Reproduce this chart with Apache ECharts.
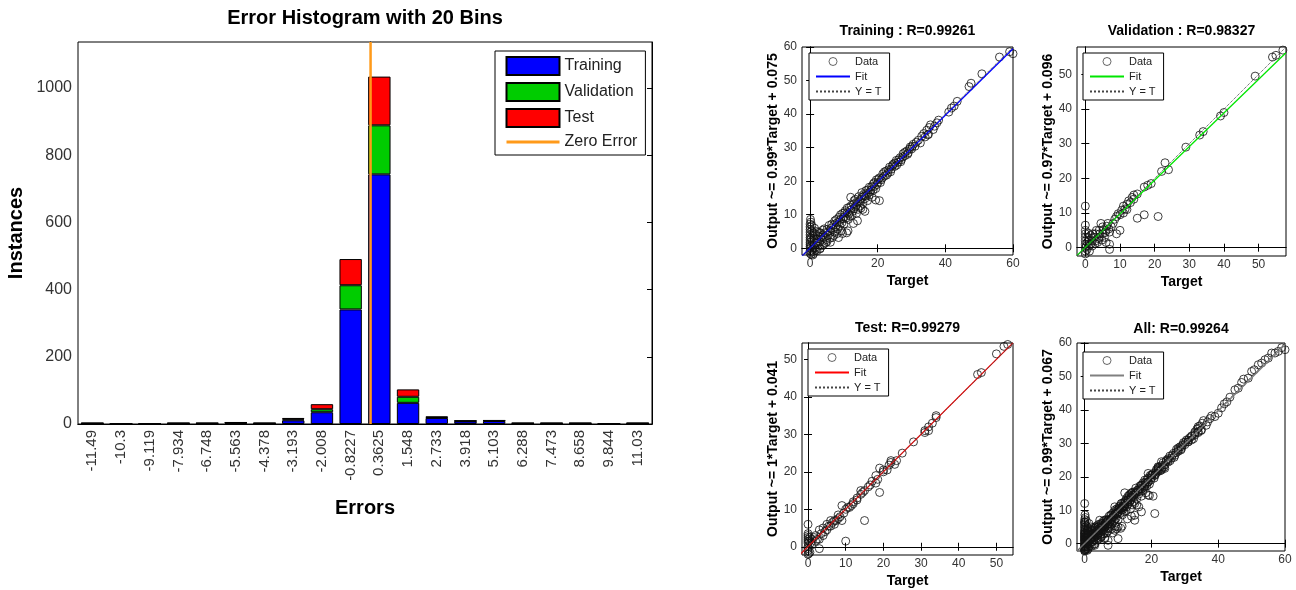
<!DOCTYPE html>
<html><head><meta charset="utf-8">
<script src="https://cdn.jsdelivr.net/npm/echarts@6/dist/echarts.min.js"></script>
<style>html,body{margin:0;padding:0;background:#fff}#c{width:1296px;height:590px}</style>
</head><body><div id="c"></div>
<script>
// ---------------- DATA ----------------
const binLabels = ['-11.49','-10.3','-9.119','-7.934','-6.748','-5.563','-4.378','-3.193','-2.008','-0.8227','0.3625','1.548','2.733','3.918','5.103','6.288','7.473','8.658','9.844','11.03'];
const trainCounts = [2,0,0,2,2,3,2,11,35,341,743,63,18,8,9,2,2,2,0,2];
const valCounts   = [0,0,0,0,0,1,0,3,9,72,146,18,2,1,1,0,0,0,0,0];
const testCounts  = [1,0,0,1,1,1,1,4,15,78,145,22,2,1,1,1,1,1,0,1];
const zeroError = 0;
const histYTicks = [0,200,400,600,800,1000];
const histYMax = 1137;

const regTitles = ['Training : R=0.99261','Validation : R=0.98327','Test: R=0.99279','All: R=0.99264'];
const fitSlope = [0.99, 0.97, 1, 0.99];
const fitIntercept = [0.075, 0.096, 0.041, 0.067];
const fitSlopeText = ['0.99','0.97','1','0.99'];
const fitColors = ['#0000FF','#00E600','#FF0000','#808080'];
const xRanges = [[-2.4,60],[-2.4,57.9],[-1.6,54.4],[-2.3,60]];
const yRanges = [[-2,60],[-2.4,57.9],[-2.2,54.4],[-2.2,60]];
const xTicks = [[0,20,40,60],[0,10,20,30,40,50],[0,10,20,30,40,50],[0,20,40,60]];
const yTicks = [[0,10,20,30,40,50,60],[0,10,20,30,40,50],[0,10,20,30,40,50],[0,10,20,30,40,50,60]];

const trainPoints = [[0,-2.2],[0,-1.5],[0,-0.8],[0,0],[0,0.6],[0,1.2],[0,1.8],[0,2.5],[0,3.2],[0,4],[0,4.8],[0,5.6],[0,6.4],[0,7.2],[0.1,8.6],[0.2,7.8],[0.3,-1.8],[0.3,3],[0.4,0.8],[0.5,-1],[0.5,5.2],[0.6,2],[0.7,-0.3],[0.8,3.8],[1,1],[1,-1.6],[1.2,2.6],[1.4,0.2],[1.5,4.2],[1.7,1.5],[2,2.8],[2,-0.8],[2.3,0.6],[2.5,3.6],[2.8,1.8],[3,4.5],[3,0],[3.4,2.6],[3.7,5.4],[4,3.2],[4,1.2],[4.4,4.6],[4.8,2.6],[5,5.6],[5.3,3.8],[5.6,6.8],[6,4.8],[6,1.8],[6.4,7.2],[6.8,5.6],[7,3.8],[7.3,8.2],[7.6,6.4],[8,7.6],[8,4.4],[8.5,9.2],[8.8,6.8],[9,8.6],[9.3,5.2],[9.6,10.4],[10,9.4],[10,7.2],[10.4,11.2],[10.8,4.6],[11,10.6],[11.3,8.6],[11.6,12.2],[12,11.4],[12,15.2],[12.4,9.8],[12.8,13.2],[13,11.8],[13.4,14.6],[13.7,10.4],[14,13.6],[14,8.2],[14.4,15.4],[14.8,12.6],[15,14.6],[15.3,16.6],[15.6,13.4],[16,15.6],[16.2,11],[16.5,17.2],[17,16.4],[17,14.2],[17.5,18.2],[18,17.4],[18.3,15.2],[18.7,19.2],[19,18.4],[19.4,14.4],[19.6,20.4],[20,19.6],[20.5,14.2],[20.5,21],[21,20.4],[21.5,22.2],[22,21.6],[22.5,23],[23,22.4],[23.5,24.2],[24,23.6],[24.5,25],[25,24.4],[25.5,26.2],[26,25.6],[26.6,27],[27,26.4],[27.5,28.2],[28,27.6],[28.6,29],[29,28.4],[29.6,30.2],[30,29.6],[30.5,31],[31,30.4],[32,32.2],[32.6,31.4],[33,33.4],[34,33.2],[34.5,35.2],[35,34],[35.6,36.8],[36.4,35.4],[37.5,37.4],[38,38.2],[41,40.6],[41.8,41.8],[42.6,42.4],[43.5,43.8],[47,48.2],[47.6,49.2],[50.8,52],[56,57],[59,58.6],[60,58],
  [0.5,6.8],[0.8,-2],[1,4.6],[1.3,6],[1.6,-0.6],[1.9,5],[2.2,1.8],[2.6,4.8],[2.9,-0.2],[3.2,3.4],[3.6,0.8],[3.9,4],[4.2,5.8],[4.6,1.6],[5,2],[5.4,5],[5.8,3],[6.2,6],[6.6,3.2],[7,7],[7.4,4.8],[7.8,8.6],[8.2,5.8],[8.6,7.8],[9,10],[9.4,7.6],[9.8,8.8],[10.2,10.6],[10.6,9],[11,12],[11.4,10.2],[11.8,9.6],[12.2,12.8],[12.6,11],[13,14.2],[13.4,12.4],[13.8,13],[14.2,11.6],[14.6,14],[15,12],[15.4,15.2],[15.8,16],[16.2,14.8],[16.6,15.6],[17,17.4],[17.4,15.8],[17.8,16.8],[18.2,18.4],[18.6,17.2],[19,19.6],[19.4,17.8],[19.8,19],[20.2,20.6],[20.8,19.6],[21.4,21],[22,22.8],[22.6,21.8],[23.2,23.4],[23.8,22.8],[24.4,24.6],[25,25.4],[25.6,24.8],[26.2,26.4],[26.8,25.8],[27.4,27.2],[28,28.6],[28.8,28],[29.4,29.6],[30.2,30.4],[31.4,31.6],[33.6,34.2],[34.8,33.8],[35.2,36],[36.8,36.4],[15.6,11.6],[12.8,7.4],[11.2,5.2],[9.6,4.4],[8.4,3.2]];
const valPoints = [[0,12],[0,-2.5],[0,-1],[0,0],[0,1],[0,2],[0,3],[0,4],[0,5],[0,6.5],[0.5,-0.5],[0.5,1.5],[0.7,3],[1,0.5],[1,2],[1.5,1],[1.5,3.5],[2,2],[2,0.5],[2.5,3],[3,2],[3,4],[3.5,1.5],[4,3],[4,5],[4.5,7],[5,4],[5,6],[5.5,3],[6,1.5],[6,5],[6.5,7],[7,-0.5],[7,1],[7,4.5],[7.5,6],[8,7],[9,4],[9,9],[10,5],[10,9.5],[11,10],[11,12],[12,11],[12,12.5],[13,13],[14,14],[15,8.5],[15,15.5],[17,9.5],[17,17.5],[18,18],[19,18.5],[21,9],[22,22],[23,24.5],[24,22.5],[29,29],[33,32.5],[34,33.5],[39,38],[40,39],[49,49.5],[54,55],[55,55.5],[57,57],[58,57.5],
  [0,-1.8],[0.3,0.5],[0.8,4.2],[1.2,-1],[1.8,2.8],[2.2,4],[2.8,1.2],[3.2,5],[3.8,2.6],[4.2,4],[4.8,2.2],[5.2,5.2],[5.8,4.4],[6.2,6.2],[6.8,5.4],[8.5,8.2],[9.5,9.8],[10.5,10.8],[11.5,11.2],[12.5,13.5],[13.5,14.5],[14,15.2]];
const testPoints = [[0,6],[0,-2],[0,-1],[0,0],[0,1],[0,2],[0,3],[0,3.5],[0.3,1.5],[0.5,-1.5],[0.5,2.5],[1,0.5],[1,2],[2,1.5],[2,3],[3,-0.5],[3,2],[3,4.5],[4,3],[4,5],[5,4.5],[5,6],[6,5.5],[6,7],[7,6],[7,7],[8,7.5],[8,8.5],[9,7],[9,11],[10,1.5],[10,10],[11,10.5],[12,12],[12,11.5],[13,12.5],[14,15],[14,14],[15,7],[15,15],[16,16],[17,17.5],[18,17],[18,19],[19,14.5],[19,21],[20,20],[20,20.5],[21,20.5],[22,22.5],[22,23],[23,22],[25,25],[28,28],[31,31],[31,30.5],[32,32],[32,31],[33,33],[34,34.5],[34,35],[45,46],[46,46.5],[50,51.5],[52,53.5],[53,54],
  [0,-0.5],[0,1.5],[0,2.5],[0.2,-1.8],[0.7,1],[1.5,2.5],[2.5,2],[3.5,3.5],[4.5,4],[5.5,5.5],[6.5,6.5],[7.5,7],[8.5,8],[9.5,9],[10.5,10.5],[11.5,11],[13,13],[14.5,14.5],[16.5,16.5],[18.5,18],[21.5,21.8],[23.5,23]];
const allPoints = trainPoints.concat(valPoints, testPoints);
const regPoints = [trainPoints, valPoints, testPoints, allPoints];

// ---------------- LAYOUT / STYLE ----------------
const FONT = "'Liberation Sans', Arial, Helvetica, sans-serif";
const grids = [], xAxes = [], yAxes = [], series = [], titles = [], legends = [];
const black = {lineStyle:{color:'#000', width:1}};
const plain = (v) => String(v);

// Histogram
const binCenters = binLabels.map(Number);
const binW = (binCenters[binCenters.length-1] - binCenters[0]) / (binCenters.length - 1);
grids.push({left:78, top:42, width:574, height:382, show:true, borderColor:'#000', borderWidth:1, backgroundColor:'#fff'});
xAxes.push({type:'category', gridIndex:0, data:binLabels, position:'bottom', boundaryGap:true,
  axisLine:black, axisTick:{inside:true, alignWithLabel:true, interval:0, length:5, lineStyle:{color:'#000'}},
  axisLabel:{rotate:90, fontSize:15, color:'#333', margin:6, interval:0, fontFamily:FONT},
  name:'Errors', nameLocation:'middle', nameGap:74, nameTextStyle:{fontSize:20, fontWeight:'bold', color:'#000', fontFamily:FONT}});
xAxes.push({type:'category', gridIndex:0, data:binLabels, position:'top', boundaryGap:true,
  axisLine:black, axisTick:{inside:true, alignWithLabel:true, interval:0, length:5, lineStyle:{color:'#000'}}, axisLabel:{show:false}});
xAxes.push({type:'value', gridIndex:0, min:binCenters[0]-binW/2, max:binCenters[binCenters.length-1]+binW/2, show:false});
yAxes.push({type:'value', gridIndex:0, min:0, max:histYMax, position:'left',
  axisLine:{show:true, lineStyle:{color:'#000'}}, splitLine:{show:false},
  axisTick:{show:true, inside:true, length:5, customValues:histYTicks, lineStyle:{color:'#000'}},
  axisLabel:{customValues:histYTicks, formatter:plain, fontSize:16, color:'#333', margin:6, fontFamily:FONT},
  name:'Instances', nameLocation:'middle', nameGap:52, nameTextStyle:{fontSize:20, fontWeight:'bold', color:'#000', fontFamily:FONT}});
yAxes.push({type:'value', gridIndex:0, min:0, max:histYMax, position:'right',
  axisLine:{show:true, lineStyle:{color:'#000'}}, splitLine:{show:false},
  axisTick:{show:true, inside:true, length:5, customValues:histYTicks, lineStyle:{color:'#000'}}, axisLabel:{show:false}});

const histSeries = [['Training', trainCounts, '#0000FF'], ['Validation', valCounts, '#00CC00'], ['Test', testCounts, '#FF0000']];
histSeries.forEach(([name, vals, col]) => {
  series.push({name, type:'bar', stack:'hist', xAxisIndex:0, yAxisIndex:0, data:vals, barWidth:'78%',
    itemStyle:{color:col, borderColor:'#000', borderWidth:1}});
});
series.push({name:'Zero Error', type:'line', xAxisIndex:2, yAxisIndex:0, data:[[zeroError,0],[zeroError,histYMax]],
  symbol:'none', lineStyle:{color:'#FF9A1A', width:2.5}, itemStyle:{color:'#FF9A1A'}, z:5});
titles.push({text:'Error Histogram with 20 Bins', left:365, top:8, textAlign:'center', padding:0,
  textStyle:{fontSize:20, fontWeight:'bold', color:'#000', fontFamily:FONT}});
legends.push({orient:'vertical', left:495, top:51, padding:[5,8,5,10], itemWidth:53, itemHeight:18, itemGap:6,
  borderColor:'#000', borderWidth:1, backgroundColor:'#fff', selectedMode:false,
  textStyle:{fontSize:16, color:'#222', fontFamily:FONT},
  data:[{name:'Training', icon:'rect'},{name:'Validation', icon:'rect'},{name:'Test', icon:'rect'},
        {name:'Zero Error', itemStyle:{opacity:0}, lineStyle:{width:3}}]});

// Regression plots
const regBoxes = [
  {left:802, top:47, w:211, h:208, titleTop:24, legL:809, legT:53},
  {left:1077, top:47, w:209, h:209, titleTop:24, legL:1083, legT:53},
  {left:802, top:343, w:211, h:212, titleTop:321, legL:808, legT:349},
  {left:1077, top:343, w:208, h:208, titleTop:322, legL:1083, legT:352}
];
const keys = ['tr','va','te','al'];
regBoxes.forEach((b, k) => {
  const g = grids.length;
  grids.push({left:b.left, top:b.top, width:b.w, height:b.h, show:true, borderColor:'#000', borderWidth:1, backgroundColor:'#fff'});
  const xi = xAxes.length, yi = yAxes.length;
  const xr = xRanges[k], yr = yRanges[k];
  const tick = (vals) => ({show:true, inside:true, length:4, customValues:vals, lineStyle:{color:'#000'}});
  xAxes.push({type:'value', gridIndex:g, min:xr[0], max:xr[1], position:'bottom', axisLine:{show:true, lineStyle:{color:'#000'}},
    splitLine:{show:false}, axisTick:tick(xTicks[k]),
    axisLabel:{customValues:xTicks[k], formatter:plain, fontSize:12, color:'#333', margin:3, fontFamily:FONT},
    name:'Target', nameLocation:'middle', nameGap:19, nameTextStyle:{fontSize:14, fontWeight:'bold', color:'#000', fontFamily:FONT}});
  xAxes.push({type:'value', gridIndex:g, min:xr[0], max:xr[1], position:'top', axisLine:{show:true, lineStyle:{color:'#000'}},
    splitLine:{show:false}, axisTick:tick(xTicks[k]), axisLabel:{show:false}});
  yAxes.push({type:'value', gridIndex:g, min:yr[0], max:yr[1], position:'left', axisLine:{show:true, lineStyle:{color:'#000'}},
    splitLine:{show:false}, axisTick:tick(yTicks[k]),
    axisLabel:{customValues:yTicks[k], formatter:plain, fontSize:12, color:'#333', margin:5, fontFamily:FONT},
    name:'Output ~= ' + fitSlopeText[k] + '*Target + ' + fitIntercept[k], nameLocation:'middle', nameGap:20,
    nameTextStyle:{fontSize:14, fontWeight:'bold', color:'#000', fontFamily:FONT}});
  yAxes.push({type:'value', gridIndex:g, min:yr[0], max:yr[1], position:'right', axisLine:{show:true, lineStyle:{color:'#000'}},
    splitLine:{show:false}, axisTick:tick(yTicks[k]), axisLabel:{show:false}});
  const lo = Math.min(xr[0], yr[0]), hi = Math.max(xr[1], yr[1]);
  const a = fitSlope[k], c = fitIntercept[k];
  series.push({name:'Data|'+keys[k], type:'scatter', xAxisIndex:xi, yAxisIndex:yi, data:regPoints[k],
    symbol:'circle', symbolSize:8, itemStyle:{color:'rgba(255,255,255,0)', borderColor:'#111', borderWidth:1}});
  series.push({name:'Fit|'+keys[k], type:'line', xAxisIndex:xi, yAxisIndex:yi, data:[[lo, a*lo+c],[hi, a*hi+c]],
    symbol:'none', lineStyle:{color:fitColors[k], width:1.3}, itemStyle:{color:fitColors[k]}});
  series.push({name:'Y = T|'+keys[k], type:'line', xAxisIndex:xi, yAxisIndex:yi, data:[[lo,lo],[hi,hi]],
    symbol:'none', lineStyle:{color:'#444', width:1, type:'dotted'}, itemStyle:{color:'#444'}});
  titles.push({text:regTitles[k], left:b.left + b.w/2, top:b.titleTop, textAlign:'center', padding:0,
    textStyle:{fontSize:14, fontWeight:'bold', color:'#000', fontFamily:FONT}});
  legends.push({orient:'vertical', left:b.legL, top:b.legT, padding:[3,8,3,6], itemWidth:34, itemHeight:8, itemGap:4,
    borderColor:'#000', borderWidth:1, backgroundColor:'#fff', selectedMode:false,
    textStyle:{fontSize:11, color:'#222', fontFamily:FONT},
    formatter:(n) => n.split('|')[0],
    data:[{name:'Data|'+keys[k], icon:'circle', itemStyle:{borderWidth:0.8}},
          {name:'Fit|'+keys[k], itemStyle:{opacity:0}}, {name:'Y = T|'+keys[k], itemStyle:{opacity:0}}]});
});

const chart = echarts.init(document.getElementById('c'));
chart.setOption({
  animation:false, backgroundColor:'#fff',
  title:titles, legend:legends, grid:grids, xAxis:xAxes, yAxis:yAxes, series:series
});
</script></body></html>
